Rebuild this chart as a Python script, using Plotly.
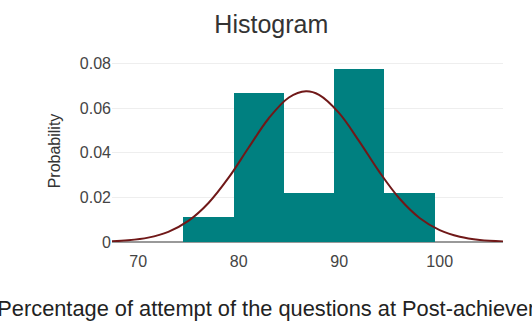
import plotly.graph_objects as go

# Histogram bins (centres, width 5) and probability densities
bin_centers = [77, 82, 87, 92, 97]
bin_width = 5
densities = [0.0111, 0.0667, 0.0222, 0.0778, 0.0222]

# Fitted normal curve
curve_x = [67.4, 69, 71, 73, 75, 77, 79, 81, 83, 85, 86.7, 88, 90, 92, 94, 96, 98, 100, 102, 104, 106.3]
curve_y = [0.00032, 0.00075, 0.00196, 0.00456, 0.00946, 0.0175, 0.02886, 0.0424, 0.05555, 0.06487,
           0.06762, 0.066, 0.05783, 0.04517, 0.03145, 0.01952, 0.0108, 0.00533, 0.00234, 0.00092, 0.00027]

x_ticks = [70, 80, 90, 100]
y_ticks = [0, 0.02, 0.04, 0.06, 0.08]
y_tick_text = ["0", "0.02", "0.04", "0.06", "0.08"]

FONT = "Liberation Sans, Arial, sans-serif"

fig = go.Figure()
fig.add_trace(go.Bar(
    x=bin_centers, y=densities, width=[bin_width] * len(bin_centers),
    marker=dict(color="#008080", line=dict(width=0)),
    showlegend=False, hoverinfo="x+y",
))
fig.add_trace(go.Scatter(
    x=curve_x, y=curve_y, mode="lines",
    line=dict(color="#701818", width=2, shape="spline"),
    showlegend=False,
))

fig.update_layout(
    width=532, height=321,
    margin=dict(l=112, r=29, t=60, b=79),
    paper_bgcolor="white", plot_bgcolor="white",
    bargap=0,
    title=dict(text="Histogram", x=0.51, xanchor="center", y=0.925, yanchor="middle",
               font=dict(family=FONT, size=25, color="#333")),
    font=dict(family=FONT, color="#444"),
    xaxis=dict(
        range=[67.4, 106.3], tickvals=x_ticks, showgrid=False, zeroline=False,
        showline=False, ticks="", ticklabelstandoff=8, tickfont=dict(size=16, color="#444"),
        title=dict(text="Percentage of attempt of the questions at Post-achievement test",
                   font=dict(size=21.8, color="#222"), standoff=35),
        automargin=False,
    ),
    yaxis=dict(
        range=[0, 0.0817], tickvals=y_ticks, ticktext=y_tick_text,
        showgrid=True, gridcolor="#eeeeee", gridwidth=1,
        zeroline=True, zerolinecolor="#999999", zerolinewidth=2,
        showline=False, ticks="", tickfont=dict(size=16, color="#444"),
        title=dict(text="Probability", font=dict(size=16, color="#333")),
        automargin=False,
    ),
)

fig.write_html("out.html", config={"displayModeBar": False},
               post_script="document.body.style.margin='0';")
